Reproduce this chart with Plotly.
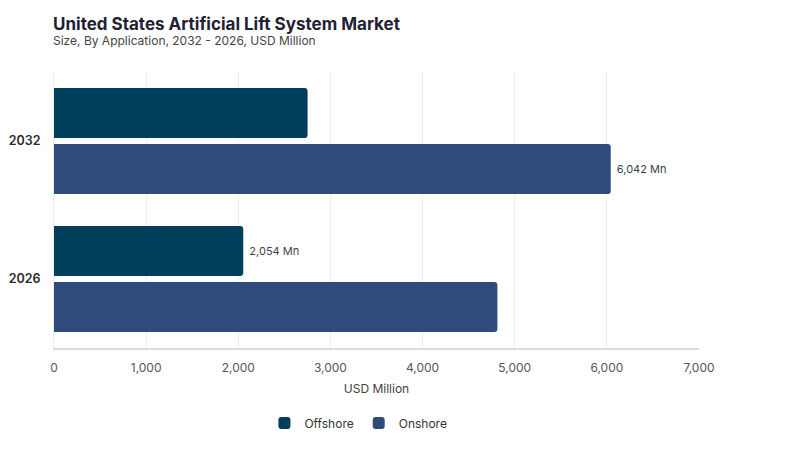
import plotly.graph_objects as go

years = ["2026", "2032"]
offshore = [2054, 2752]
onshore = [4812, 6042]
offshore_labels = ["\u00a02,054 Mn", ""]
onshore_labels = ["", "\u00a06,042 Mn"]
x_ticks = [0, 1000, 2000, 3000, 4000, 5000, 6000, 7000]

font = "Inter, Open Sans, sans-serif"

fig = go.Figure()
# onshore added first so it sits below offshore in each group
fig.add_trace(go.Bar(
    y=years, x=onshore, name="Onshore", orientation="h",
    marker=dict(color="#2f4b7c", cornerradius=3, line=dict(width=0)),
    text=onshore_labels, textposition="outside", cliponaxis=False,
    textfont=dict(size=11, color="#3a3f4f", family=font),
))
fig.add_trace(go.Bar(
    y=years, x=offshore, name="Offshore", orientation="h",
    marker=dict(color="#003f5c", cornerradius=3, line=dict(width=0)),
    text=offshore_labels, textposition="outside", cliponaxis=False,
    textfont=dict(size=11, color="#3a3f4f", family=font),
))

fig.update_layout(
    width=800, height=450,
    paper_bgcolor="white", plot_bgcolor="white",
    margin=dict(l=46, r=109, t=64, b=110, autoexpand=False),
    barmode="group", bargap=0.188, bargroupgap=0.107,
    font=dict(family=font, color="#555555", size=12),
    title=dict(
        text="<b>United States Artificial Lift System Market</b>",
        x=45 / 800, xanchor="left", yref="container", y=1 - 16 / 450, yanchor="middle",
        font=dict(size=17, color="#1f2233", family=font),
    ),
    annotations=[dict(
        text="Size, By Application, 2032 - 2026, USD Million",
        xref="paper", yref="paper", x=-3.5 / 645, y=(340 - 33) / 276,
        xanchor="left", yanchor="middle", showarrow=False,
        font=dict(size=12, color="#444444", family=font),
    )],
    showlegend=True,
    legend=dict(
        orientation="h", traceorder="reversed",
        x=0.472, xanchor="center", yref="container", y=1 - 415 / 450, yanchor="middle",
        font=dict(size=12, color="#333333"),
    ),
)
fig.update_xaxes(
    range=[0, 7000], tickvals=x_ticks, tickformat=",",
    showgrid=True, gridcolor="#ececec", gridwidth=1,
    showline=True, linecolor="#dcdcdc", linewidth=2,
    zeroline=False, ticks="", ticklabelstandoff=8,
    tickfont=dict(size=12, color="#555555"),
    title=dict(text="USD Million", font=dict(size=12, color="#444444"), standoff=10),
)
fig.update_yaxes(
    type="category", categoryorder="array", categoryarray=years,
    showline=True, linecolor="#ececec", linewidth=1,
    showgrid=False, ticks="", ticklabelstandoff=10,
    tickfont=dict(size=12.5, color="#2a2a2a", weight=600),
)

fig.write_html("out.html")
